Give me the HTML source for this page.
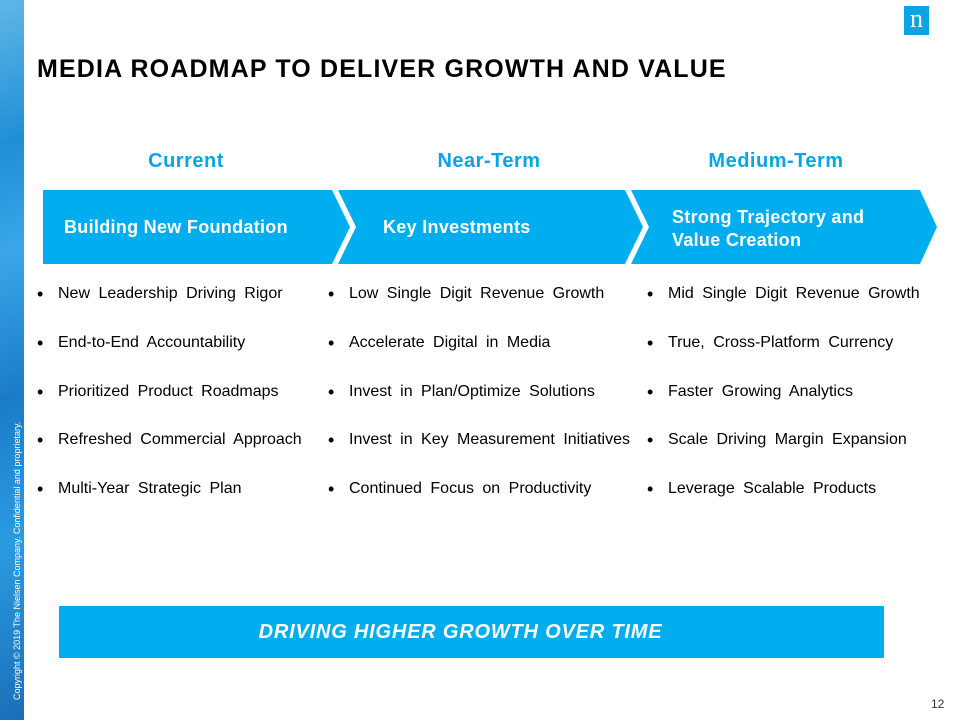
<!DOCTYPE html>
<html><head><meta charset="utf-8"><style>
body{margin:0;width:960px;height:720px;position:relative;overflow:hidden;background:#fff;font-family:"Liberation Sans",Arial,sans-serif}
.a{position:absolute;white-space:nowrap}
.strip{position:absolute;left:0;top:0;width:24px;height:720px;background:linear-gradient(160deg,#5fb7e6 0%,#1f8fd6 20%,#3aa6e8 35%,#1a7cc8 55%,#2b9be0 75%,#1a6fb8 100%)}
.copy{position:absolute;left:12px;top:700px;transform:rotate(-90deg);transform-origin:0 0;font-size:9px;color:#fff;white-space:nowrap}
h1{position:absolute;left:37px;top:55px;margin:0;font-size:25px;font-weight:bold;color:#000;letter-spacing:1.15px;white-space:nowrap}
.hd{position:absolute;top:150px;font-size:20px;font-weight:bold;color:#0aa4e4;text-align:center;width:220px;letter-spacing:0.5px}
.ch{position:absolute;color:#fff;font-weight:bold;font-size:18px;letter-spacing:0.3px}
ul{position:absolute;top:285px;margin:0;padding:0;list-style:none;font-size:16px;color:#000}
li{height:48.8px;position:relative;padding-left:21px;word-spacing:4px;white-space:nowrap}
li:before{content:"•";position:absolute;left:0;top:0;font-size:18px;line-height:18px}
</style></head><body>
<div class="strip"></div>
<div class="copy">Copyright © 2019 The Nielsen Company. Confidential and proprietary.</div>
<div class="a" style="left:904px;top:6px;width:25px;height:29px;background:#0aa4e4;color:#fff;font-family:'Liberation Serif',serif;font-size:26px;line-height:26px;text-align:center">n</div>
<h1>MEDIA ROADMAP TO DELIVER GROWTH AND VALUE</h1>
<div class="hd" style="left:76px">Current</div>
<div class="hd" style="left:379px">Near-Term</div>
<div class="hd" style="left:666px">Medium-Term</div>
<svg class="a" style="left:0;top:0" width="960" height="720">
<polygon points="43,190 332,190 350,227 332,264 43,264" fill="#00adee"/>
<polygon points="338,190 625,190 643,227 625,264 338,264 356,227" fill="#00adee"/>
<polygon points="631,190 920,190 937,227 920,264 631,264 649,227" fill="#00adee"/>
<rect x="59" y="606" width="825" height="52" fill="#00adee"/>
</svg>
<div class="ch" style="left:64px;top:217px">Building New Foundation</div>
<div class="ch" style="left:383px;top:217px">Key Investments</div>
<div class="ch" style="left:672px;top:206px;line-height:23px;white-space:nowrap">Strong Trajectory and<br>Value Creation</div>
<ul style="left:37px">
<li>New Leadership Driving Rigor</li>
<li>End-to-End Accountability</li>
<li>Prioritized Product Roadmaps</li>
<li>Refreshed Commercial Approach</li>
<li>Multi-Year Strategic Plan</li>
</ul>
<ul style="left:328px">
<li>Low Single Digit Revenue Growth</li>
<li>Accelerate Digital in Media</li>
<li>Invest in Plan/Optimize Solutions</li>
<li>Invest in Key Measurement Initiatives</li>
<li>Continued Focus on Productivity</li>
</ul>
<ul style="left:647px">
<li>Mid Single Digit Revenue Growth</li>
<li>True, Cross-Platform Currency</li>
<li>Faster Growing Analytics</li>
<li>Scale Driving Margin Expansion</li>
<li>Leverage Scalable Products</li>
</ul>
<div class="a" style="left:48px;top:621px;width:825px;text-align:center;color:#fff;font-weight:bold;font-style:italic;font-size:20px;letter-spacing:0.8px">DRIVING HIGHER GROWTH OVER TIME</div>
<div class="a" style="left:931px;top:697px;font-size:12px;color:#333">12</div>
</body></html>
